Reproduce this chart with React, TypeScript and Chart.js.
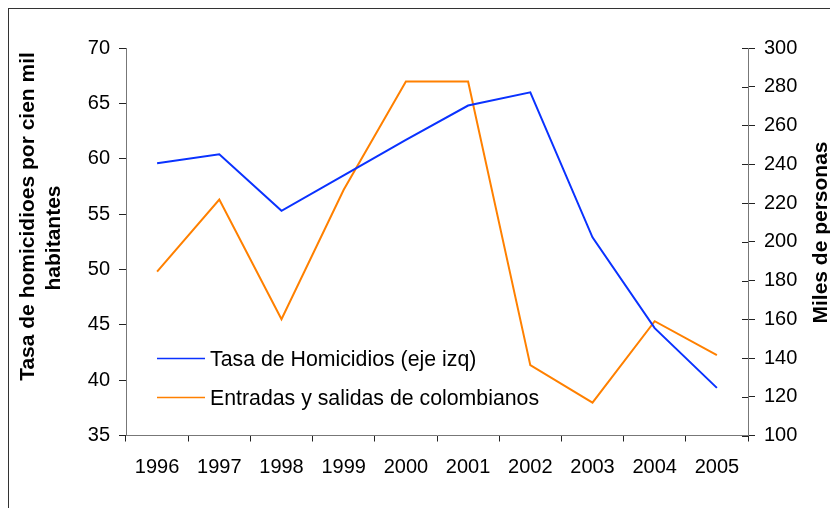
import React, { useEffect, useRef } from "react";
import { Chart, registerables } from "chart.js";

Chart.register(...registerables);

const years = ["1996", "1997", "1998", "1999", "2000", "2001", "2002", "2003", "2004", "2005"];
const homicidios = [59.6, 60.4, 55.3, 58.5, 61.7, 64.8, 66.0, 52.9, 44.7, 39.3];
const entradas = [184.6, 221.8, 160.0, 226.8, 282.7, 282.7, 136.3, 117.0, 159.0, 141.5];
const seriesLabels = ["Tasa de Homicidios (eje izq)", "Entradas y salidas de colombianos"];
const leftTitle = ["Tasa de homicidioes por cien mil", "habitantes"];
const rightTitle = "Miles de personas";

const FONT = "'Liberation Sans', Arial, Helvetica, sans-serif";
const BLUE = "#0a32ff";
const ORANGE = "#ff8000";

const extrasPlugin = {
  id: "extras",
  afterDraw(chart: any) {
    const ctx = chart.ctx as CanvasRenderingContext2D;
    const area = chart.chartArea;
    const y1 = chart.scales.y1;
    ctx.save();
    // inner tick marks on the right axis
    ctx.strokeStyle = "#222";
    ctx.lineWidth = 1;
    y1.ticks.forEach((_t: any, i: number) => {
      const py = Math.round(y1.getPixelForTick(i)) + 0.5;
      ctx.beginPath();
      ctx.moveTo(area.right - 6, py);
      ctx.lineTo(area.right, py);
      ctx.stroke();
    });
    // legend
    ctx.font = `21.3px ${FONT}`;
    ctx.fillStyle = "#000";
    ctx.textAlign = "left";
    ctx.textBaseline = "alphabetic";
    const rows = [349.5, 388.5];
    chart.data.datasets.forEach((ds: any, i: number) => {
      const ly = rows[i];
      ctx.strokeStyle = ds.borderColor;
      ctx.lineWidth = 1.5;
      ctx.beginPath();
      ctx.moveTo(area.left + 31, ly);
      ctx.lineTo(area.left + 79, ly);
      ctx.stroke();
      ctx.fillText(ds.label, area.left + 84, ly + 7.5);
    });
    // axis titles
    ctx.font = `bold 21px ${FONT}`;
    ctx.textAlign = "center";
    const lt = [
      { x: 24.5, y: 207.5 },
      { x: 51, y: 229 },
    ];
    leftTitle.forEach((t, i) => {
      ctx.save();
      ctx.translate(lt[i].x, lt[i].y);
      ctx.rotate(-Math.PI / 2);
      ctx.fillText(t, 0, 0);
      ctx.restore();
    });
    ctx.save();
    ctx.translate(818, 223.5);
    ctx.rotate(-Math.PI / 2);
    ctx.fillText(rightTitle, 0, 0);
    ctx.restore();
    ctx.restore();
  },
};

export default function App() {
  const ref = useRef<HTMLCanvasElement | null>(null);
  useEffect(() => {
    if (!ref.current) return;
    Chart.defaults.font.family = FONT;
    const chart = new Chart(ref.current, {
      type: "line",
      data: {
        labels: years,
        datasets: [
          {
            label: seriesLabels[0],
            data: homicidios,
            borderColor: BLUE,
            backgroundColor: BLUE,
            borderWidth: 2,
            pointRadius: 0,
            tension: 0,
            yAxisID: "y",
          },
          {
            label: seriesLabels[1],
            data: entradas,
            borderColor: ORANGE,
            backgroundColor: ORANGE,
            borderWidth: 2,
            pointRadius: 0,
            tension: 0,
            yAxisID: "y1",
          },
        ],
      },
      options: {
        animation: false,
        responsive: false,
        devicePixelRatio: 1,
        layout: { padding: { top: 39, left: 0, right: 0, bottom: 0 } },
        plugins: {
          legend: { display: false },
          tooltip: { enabled: false },
        },
        scales: {
          x: {
            type: "category",
            offset: true,
            grid: {
              offset: true,
              drawOnChartArea: false,
              drawTicks: true,
              tickLength: 6,
              color: "#222",
            },
            border: { color: "#777", width: 1 },
            ticks: {
              font: { size: 20, family: FONT },
              color: "#000",
              padding: 14,
              maxRotation: 0,
              autoSkip: false,
            },
            afterFit: (s: any) => {
              s.height = 72.5;
            },
          },
          y: {
            position: "left",
            min: 35,
            max: 70,
            grid: { drawOnChartArea: false, tickLength: 7, color: "#222" },
            border: { color: "#777", width: 1 },
            ticks: {
              stepSize: 5,
              font: { size: 20, family: FONT },
              color: "#000",
              padding: 9,
            },
            afterFit: (s: any) => {
              s.width = 117;
            },
          },
          y1: {
            position: "right",
            min: 100,
            max: 300,
            grid: { drawOnChartArea: false, tickLength: 7, color: "#222" },
            border: { color: "#777", width: 1 },
            ticks: {
              stepSize: 20,
              font: { size: 20, family: FONT },
              color: "#000",
              padding: 9,
            },
            afterFit: (s: any) => {
              s.width = 82;
            },
          },
        },
      },
      plugins: [extrasPlugin],
    } as any);
    return () => chart.destroy();
  }, []);

  return (
    <div
      style={{
        position: "fixed",
        left: 8,
        top: 8,
        width: 822,
        height: 500,
        borderTop: "1px solid #333",
        borderLeft: "1px solid #333",
        boxSizing: "border-box",
        background: "#fff",
        overflow: "hidden",
      }}
    >
      <canvas ref={ref} width={821} height={499} style={{ display: "block" }} />
    </div>
  );
}
